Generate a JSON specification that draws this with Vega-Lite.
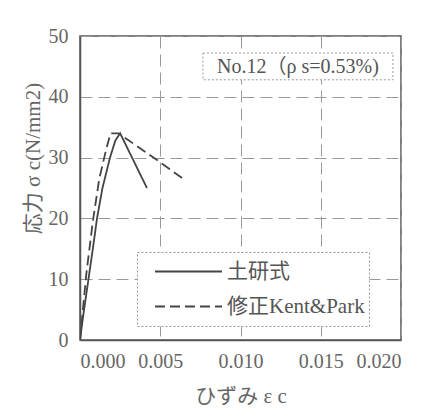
{
  "$schema": "https://vega.github.io/schema/vega-lite/v6.json",
  "width": 321,
  "height": 304,
  "autosize": {"type": "none"},
  "padding": {"left": 80, "top": 36, "right": 31, "bottom": 74},
  "background": "white",
  "config": {
    "font": "'Liberation Serif', 'Noto Sans CJK JP', serif",
    "view": {"stroke": "#555", "strokeWidth": 1.5},
    "axis": {
      "grid": true,
      "labelFont": "'Liberation Serif', serif",
      "labelFontSize": 20,
      "labelColor": "#666",
      "titleFont": "'Liberation Serif', 'Noto Sans CJK JP', serif",
      "titleFontSize": 21,
      "titleFontWeight": "normal",
      "titleColor": "#666",
      "gridColor": "#999",
      "gridDash": [12, 6],
      "gridWidth": 1,
      "gridOpacity": 1,
      "domainColor": "#555",
      "domainWidth": 1.5,
      "ticks": false
    }
  },
  "datasets": {
    "curves": [
      {"strain": 0.0, "stress": 0.0, "model": "土研式"},
      {"strain": 0.0002, "stress": 4.0, "model": "土研式"},
      {"strain": 0.0005, "stress": 9.5, "model": "土研式"},
      {"strain": 0.0008, "stress": 15.0, "model": "土研式"},
      {"strain": 0.00106, "stress": 20.0, "model": "土研式"},
      {"strain": 0.0014, "stress": 25.0, "model": "土研式"},
      {"strain": 0.00187, "stress": 30.0, "model": "土研式"},
      {"strain": 0.0022, "stress": 32.8, "model": "土研式"},
      {"strain": 0.0025, "stress": 34.0, "model": "土研式"},
      {"strain": 0.00417, "stress": 25.0, "model": "土研式"},
      {"strain": 0.0, "stress": 0.0, "model": "修正Kent&Park"},
      {"strain": 0.0004, "stress": 11.0, "model": "修正Kent&Park"},
      {"strain": 0.0008, "stress": 19.5, "model": "修正Kent&Park"},
      {"strain": 0.0012, "stress": 26.5, "model": "修正Kent&Park"},
      {"strain": 0.0016, "stress": 31.0, "model": "修正Kent&Park"},
      {"strain": 0.0019, "stress": 34.0, "model": "修正Kent&Park"},
      {"strain": 0.0024, "stress": 34.0, "model": "修正Kent&Park"},
      {"strain": 0.0048, "stress": 29.6, "model": "修正Kent&Park"},
      {"strain": 0.00654, "stress": 26.3, "model": "修正Kent&Park"}
    ]
  },
  "layer": [
    {
      "data": {"values": [{"label": "No.12（ρ s=0.53%)"}]},
      "mark": {"type": "rect", "fill": "white", "stroke": "#999", "strokeWidth": 1, "strokeDash": [2, 2]},
      "encoding": {
        "x": {"datum": 0.00766, "type": "quantitative"},
        "x2": {"datum": 0.0195},
        "y": {"datum": 42.8, "type": "quantitative"},
        "y2": {"datum": 47.2}
      }
    },
    {
      "data": {"values": [{"label": "No.12（ρ s=0.53%)"}]},
      "mark": {"type": "text", "fontSize": 20, "color": "#555", "font": "'Liberation Serif', 'Noto Sans CJK JP', serif", "baseline": "middle", "align": "center"},
      "encoding": {
        "x": {"datum": 0.01358, "type": "quantitative"},
        "y": {"datum": 44.9, "type": "quantitative"},
        "text": {"field": "label"}
      }
    },
    {
      "data": {"name": "curves"},
      "mark": {"type": "line", "color": "#444", "strokeWidth": 1.8, "clip": true},
      "encoding": {
        "x": {
          "field": "strain", "type": "quantitative",
          "scale": {"domain": [0, 0.02], "nice": false},
          "axis": {"values": [0, 0.005, 0.01, 0.015, 0.02], "format": ".3f", "labelPadding": 11, "title": "ひずみ ε c", "titlePadding": 14, "grid": true}
        },
        "y": {
          "field": "stress", "type": "quantitative",
          "scale": {"domain": [0, 50], "nice": false},
          "axis": {"values": [0, 10, 20, 30, 40, 50], "grid": true, "labelPadding": 12, "title": "応力 σ c(N/mm2)", "titleX": -47, "titleY": 122, "titleAlign": "center", "titleBaseline": "middle", "titleAngle": -90}
        },
        "strokeDash": {
          "field": "model", "type": "nominal",
          "scale": {"domain": ["土研式", "修正Kent&Park"], "range": [[1, 0], [10, 5]]},
          "legend": {
            "title": null,
            "orient": "none",
            "legendX": 57,
            "legendY": 216,
            "fillColor": "white",
            "strokeColor": "#999",
            "padding": 4,
            "clipHeight": 31,
            "symbolOffset": 13,
            "symbolType": "stroke",
            "symbolSize": 4489,
            "symbolStrokeColor": "#444",
            "symbolStrokeWidth": 1.8,
            "labelFontSize": 21,
            "labelColor": "#555",
            "labelFont": "'Liberation Serif', 'Noto Sans CJK JP', serif",
            "labelOffset": 4,
            "rowPadding": 4,
            "labelLimit": 300,
            "encode": {"legend": {"update": {"strokeDash": {"value": [2, 2]}}}}
          }
        }
      }
    }
  ]
}
